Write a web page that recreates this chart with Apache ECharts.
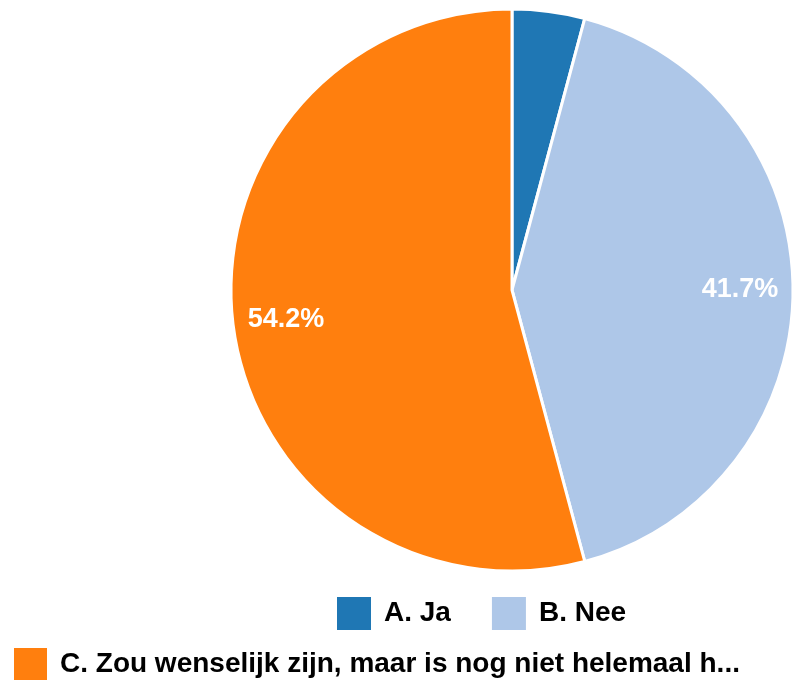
<!DOCTYPE html>
<html>
<head>
<meta charset="utf-8">
<script src="https://cdn.jsdelivr.net/npm/echarts@6/dist/echarts.min.js"></script>
<style>html,body{margin:0;padding:0;background:#fff}#c{width:810px;height:681px}</style>
</head>
<body>
<div id="c"></div>
<script>
const categories = ['A. Ja', 'B. Nee', 'C. Zou wenselijk zijn, maar is nog niet helemaal h...'];
const values = [1, 10, 13];
const colors = ['#1f77b4', '#aec7e8', '#ff7f0e'];
const percentLabels = ['4.2%', '41.7%', '54.2%'];
const showLabel = [false, true, true];

const chart = echarts.init(document.getElementById('c'), null, {renderer: 'canvas'});
const font = 'Liberation Sans, Arial, sans-serif';
const pieData = categories.map((n, i) => ({name: n, value: values[i], itemStyle: {color: colors[i]}}));
const labelData = categories.map((n, i) => ({
  name: n, value: values[i],
  label: {show: showLabel[i], formatter: percentLabels[i]}
}));
const legendText = {fontFamily: font, fontWeight: 'bold', fontSize: 28, color: '#000', padding: [0, 0, 0, 7]};
chart.setOption({
  animation: false,
  legend: [{
    data: categories.slice(0, 2),
    left: 335, top: 595, padding: 0,
    itemWidth: 36, itemHeight: 35, itemGap: 39,
    icon: 'rect',
    selectedMode: false,
    textStyle: legendText
  }, {
    data: categories.slice(2),
    left: 12, top: 646, padding: 0,
    itemWidth: 35, itemHeight: 34,
    icon: 'rect',
    selectedMode: false,
    textStyle: legendText
  }],
  series: [{
    type: 'pie',
    center: [512, 290],
    radius: [0, 281],
    startAngle: 90,
    clockwise: true,
    data: pieData,
    label: {show: false},
    labelLine: {show: false},
    itemStyle: {borderColor: '#fff', borderWidth: 3},
    emphasis: {disabled: true}
  }, {
    type: 'pie',
    center: [512, 290],
    radius: [170, 280],
    startAngle: 90,
    clockwise: true,
    silent: true,
    data: labelData,
    itemStyle: {color: 'rgba(0,0,0,0)', borderWidth: 0},
    label: {position: 'inside', color: '#fff', fontFamily: font, fontWeight: 'bold', fontSize: 27},
    labelLine: {show: false},
    legendHoverLink: false,
    emphasis: {disabled: true}
  }]
});
</script>
</body>
</html>
